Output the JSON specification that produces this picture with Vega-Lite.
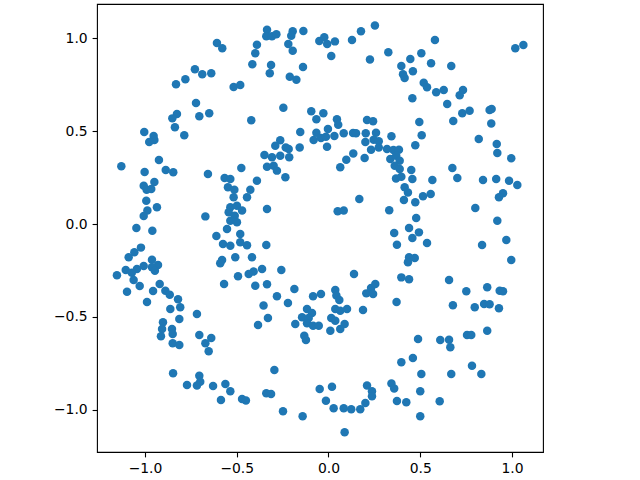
{
"$schema": "https://vega.github.io/schema/vega-lite/v6.json",
"width": 446, "height": 448,
"autosize": "none",
"padding": {"left": 97, "top": 4, "right": 97, "bottom": 28},
"background": "white",
"config": {
  "view": {"stroke": "black", "strokeWidth": 1.1},
  "axis": {"domain": false, "grid": false, "ticks": true, "tickColor": "black", "tickSize": 4.9, "tickWidth": 1.1, "labelFont": "DejaVu Sans", "labelFontSize": 13.9, "labelColor": "black", "labelPadding": 4.9, "title": null}
},
"data": {"values": [
{"x":-0.608,"y":0.973},{"x":-0.579,"y":0.945},{"x":-0.728,"y":0.832},{"x":-0.688,"y":0.805},{"x":-0.639,"y":0.810},{"x":-0.780,"y":0.778},{"x":-0.831,"y":0.751},{"x":-0.517,"y":0.737},{"x":-0.481,"y":0.747},{"x":-0.722,"y":0.651},
{"x":-0.826,"y":0.591},{"x":-0.851,"y":0.568},{"x":-0.704,"y":0.579},{"x":-0.650,"y":0.595},{"x":-0.837,"y":0.520},{"x":-1.004,"y":0.495},{"x":-0.953,"y":0.473},{"x":-0.949,"y":0.452},{"x":-0.977,"y":0.441},{"x":-0.786,"y":0.477},
{"x":-0.335,"y":1.045},{"x":-0.339,"y":1.009},{"x":-0.308,"y":1.009},{"x":-0.284,"y":1.020},{"x":-0.195,"y":1.036},{"x":-0.203,"y":1.012},{"x":-0.137,"y":1.038},{"x":-0.390,"y":0.964},{"x":-0.399,"y":0.918},{"x":-0.415,"y":0.859},
{"x":-0.313,"y":0.855},{"x":-0.320,"y":0.810},{"x":-0.219,"y":0.968},{"x":-0.195,"y":0.932},{"x":-0.139,"y":0.844},{"x":-0.211,"y":0.792},{"x":-0.175,"y":0.776},{"x":-0.050,"y":0.984},{"x":-0.023,"y":1.004},{"x":-0.007,"y":0.968},
{"x":0.035,"y":0.982},{"x":0.015,"y":0.903},{"x":0.128,"y":0.989},{"x":0.177,"y":1.036},{"x":0.253,"y":1.068},{"x":0.226,"y":0.885},{"x":0.326,"y":0.923},{"x":-0.246,"y":0.625},{"x":-0.421,"y":0.558},{"x":-0.094,"y":0.606},
{"x":-0.028,"y":0.595},{"x":-0.066,"y":0.563},{"x":0.046,"y":0.563},{"x":0.053,"y":0.534},{"x":0.210,"y":0.559},{"x":0.243,"y":0.552},{"x":-0.154,"y":0.495},{"x":-0.066,"y":0.491},{"x":-0.003,"y":0.511},{"x":0.032,"y":0.473},
{"x":0.083,"y":0.488},{"x":0.134,"y":0.489},{"x":0.150,"y":0.488},{"x":0.203,"y":0.488},{"x":0.259,"y":0.491},{"x":0.343,"y":0.472},{"x":-0.081,"y":0.452},{"x":-0.041,"y":0.462},{"x":-0.014,"y":0.469},{"x":-0.008,"y":0.416},
{"x":-0.263,"y":0.450},{"x":-0.290,"y":0.421},{"x":-0.233,"y":0.412},{"x":-0.217,"y":0.403},{"x":-0.157,"y":0.412},{"x":0.135,"y":0.379},{"x":0.201,"y":0.441},{"x":0.246,"y":0.453},{"x":0.274,"y":0.445},{"x":0.232,"y":0.399},
{"x":0.274,"y":0.412},{"x":0.319,"y":0.403},{"x":0.354,"y":0.398},{"x":-0.349,"y":0.371},{"x":0.580,"y":0.989},{"x":1.018,"y":0.945},{"x":1.062,"y":0.962},{"x":0.506,"y":0.918},{"x":0.446,"y":0.887},{"x":0.397,"y":0.849},
{"x":0.406,"y":0.805},{"x":0.415,"y":0.785},{"x":0.460,"y":0.821},{"x":0.559,"y":0.864},{"x":0.669,"y":0.849},{"x":0.519,"y":0.760},{"x":0.537,"y":0.735},{"x":0.587,"y":0.708},{"x":0.628,"y":0.720},{"x":0.457,"y":0.676},
{"x":0.647,"y":0.645},{"x":0.715,"y":0.692},{"x":0.733,"y":0.720},{"x":0.729,"y":0.595},{"x":0.769,"y":0.609},{"x":0.680,"y":0.554},{"x":0.495,"y":0.548},{"x":0.508,"y":0.477},{"x":0.878,"y":0.613},{"x":0.889,"y":0.618},
{"x":0.887,"y":0.541},{"x":0.819,"y":0.457},{"x":0.917,"y":0.430},{"x":0.920,"y":0.382},{"x":0.473,"y":0.423},{"x":0.384,"y":0.399},{"x":-1.129,"y":0.310},{"x":-0.924,"y":0.344},{"x":-0.887,"y":0.290},{"x":-0.846,"y":0.278},
{"x":-1.002,"y":0.280},{"x":-1.007,"y":0.206},{"x":-0.949,"y":0.226},{"x":-0.991,"y":0.184},{"x":-0.966,"y":0.188},{"x":-0.993,"y":0.125},{"x":-0.935,"y":0.090},{"x":-0.987,"y":0.072},{"x":-1.007,"y":0.043},{"x":-1.047,"y":-0.022},
{"x":-0.960,"y":-0.036},{"x":-1.022,"y":-0.127},{"x":-1.058,"y":-0.152},{"x":-1.089,"y":-0.179},{"x":-0.962,"y":-0.192},{"x":-0.929,"y":-0.220},{"x":-1.007,"y":-0.226},{"x":-1.044,"y":-0.242},{"x":-1.105,"y":-0.247},{"x":-1.153,"y":-0.276},
{"x":-1.072,"y":-0.262},{"x":-0.962,"y":-0.233},{"x":-0.946,"y":-0.251},{"x":-1.062,"y":-0.301},{"x":-1.029,"y":-0.333},{"x":-1.098,"y":-0.364},{"x":-0.920,"y":-0.323},{"x":-0.956,"y":-0.360},{"x":-0.889,"y":-0.359},{"x":-0.865,"y":-0.380},
{"x":-0.820,"y":-0.405},{"x":-0.989,"y":-0.419},{"x":-0.657,"y":0.269},{"x":-0.566,"y":0.247},{"x":-0.535,"y":0.242},{"x":-0.548,"y":0.197},{"x":-0.513,"y":0.184},{"x":-0.475,"y":0.301},{"x":-0.517,"y":0.144},{"x":-0.444,"y":0.144},
{"x":-0.535,"y":0.090},{"x":-0.499,"y":0.098},{"x":-0.544,"y":0.063},{"x":-0.511,"y":0.045},{"x":-0.471,"y":0.072},{"x":-0.535,"y":0.018},{"x":-0.499,"y":0.009},{"x":-0.671,"y":0.041},{"x":-0.553,"y":-0.027},{"x":-0.481,"y":-0.054},
{"x":-0.611,"y":-0.065},{"x":-0.575,"y":-0.108},{"x":-0.535,"y":-0.117},{"x":-0.481,"y":-0.098},{"x":-0.444,"y":-0.114},{"x":-0.580,"y":-0.194},{"x":-0.590,"y":-0.211},{"x":-0.508,"y":-0.179},{"x":-0.493,"y":-0.281},{"x":-0.569,"y":-0.323},
{"x":-0.308,"y":0.359},{"x":-0.263,"y":0.367},{"x":-0.214,"y":0.359},{"x":-0.335,"y":0.308},{"x":-0.299,"y":0.313},{"x":-0.281,"y":0.287},{"x":-0.235,"y":0.251},{"x":-0.390,"y":0.233},{"x":-0.426,"y":0.184},{"x":-0.335,"y":0.081},
{"x":0.064,"y":0.305},{"x":0.097,"y":0.346},{"x":0.197,"y":0.355},{"x":0.168,"y":0.134},{"x":0.050,"y":0.068},{"x":0.083,"y":0.072},{"x":0.331,"y":0.074},{"x":0.368,"y":0.245},{"x":0.337,"y":0.349},{"x":0.358,"y":-0.049},
{"x":0.373,"y":-0.111},{"x":-0.339,"y":-0.113},{"x":-0.417,"y":-0.179},{"x":-0.362,"y":-0.242},{"x":-0.408,"y":-0.256},{"x":-0.435,"y":-0.269},{"x":-0.257,"y":-0.247},{"x":-0.399,"y":-0.332},{"x":-0.335,"y":-0.324},{"x":-0.186,"y":-0.349},
{"x":-0.281,"y":-0.389},{"x":-0.354,"y":-0.438},{"x":-0.221,"y":-0.425},{"x":-0.084,"y":-0.389},{"x":-0.041,"y":-0.376},{"x":0.037,"y":-0.355},{"x":0.043,"y":-0.385},{"x":0.059,"y":-0.409},{"x":0.139,"y":-0.269},{"x":0.206,"y":-0.373},
{"x":0.232,"y":-0.344},{"x":0.255,"y":-0.323},{"x":0.243,"y":-0.376},{"x":0.371,"y":-0.419},{"x":0.369,"y":0.367},{"x":0.388,"y":0.340},{"x":0.361,"y":0.313},{"x":0.388,"y":0.296},{"x":0.451,"y":0.290},{"x":0.397,"y":0.254},
{"x":0.457,"y":0.242},{"x":0.415,"y":0.197},{"x":0.433,"y":0.170},{"x":0.411,"y":0.129},{"x":0.473,"y":0.117},{"x":0.515,"y":0.149},{"x":0.557,"y":0.161},{"x":0.566,"y":0.237},{"x":0.675,"y":0.301},{"x":0.702,"y":0.247},
{"x":0.996,"y":0.353},{"x":0.842,"y":0.237},{"x":0.914,"y":0.242},{"x":0.984,"y":0.233},{"x":1.029,"y":0.210},{"x":0.951,"y":0.165},{"x":0.929,"y":0.144},{"x":0.800,"y":0.086},{"x":0.478,"y":0.032},{"x":0.439,"y":-0.022},
{"x":0.493,"y":-0.045},{"x":0.457,"y":-0.075},{"x":0.920,"y":0.018},{"x":0.537,"y":-0.102},{"x":0.969,"y":-0.086},{"x":0.837,"y":-0.113},{"x":0.439,"y":-0.179},{"x":0.470,"y":-0.183},{"x":0.433,"y":-0.206},{"x":0.996,"y":-0.194},
{"x":0.397,"y":-0.287},{"x":0.439,"y":-0.297},{"x":0.657,"y":-0.301},{"x":0.751,"y":-0.362},{"x":0.865,"y":-0.340},{"x":0.933,"y":-0.359},{"x":0.951,"y":-0.362},{"x":0.678,"y":-0.437},{"x":0.848,"y":-0.430},{"x":0.878,"y":-0.432},
{"x":-0.862,"y":-0.457},{"x":-0.808,"y":-0.448},{"x":-0.813,"y":-0.511},{"x":-0.717,"y":-0.484},{"x":-0.902,"y":-0.528},{"x":-0.907,"y":-0.565},{"x":-0.853,"y":-0.565},{"x":-0.849,"y":-0.591},{"x":-0.913,"y":-0.604},{"x":-0.849,"y":-0.641},
{"x":-0.813,"y":-0.651},{"x":-0.704,"y":-0.597},{"x":-0.639,"y":-0.613},{"x":-0.671,"y":-0.641},{"x":-0.653,"y":-0.684},{"x":-0.847,"y":-0.803},{"x":-0.704,"y":-0.816},{"x":-0.699,"y":-0.848},{"x":-0.717,"y":-0.869},{"x":-0.771,"y":-0.866},
{"x":-0.629,"y":-0.871},{"x":-0.562,"y":-0.860},{"x":-0.535,"y":-0.899},{"x":-0.586,"y":-0.946},{"x":-0.471,"y":-0.941},{"x":-0.450,"y":-0.949},{"x":-0.330,"y":-0.505},{"x":-0.384,"y":-0.543},{"x":-0.117,"y":-0.457},{"x":-0.090,"y":-0.478},
{"x":-0.144,"y":-0.502},{"x":-0.108,"y":-0.505},{"x":-0.117,"y":-0.534},{"x":-0.084,"y":-0.547},{"x":-0.053,"y":-0.547},{"x":-0.181,"y":-0.538},{"x":-0.132,"y":-0.601},{"x":-0.123,"y":-0.624},{"x":0.037,"y":-0.457},{"x":0.064,"y":-0.466},
{"x":0.101,"y":-0.457},{"x":0.188,"y":-0.462},{"x":0.015,"y":-0.505},{"x":0.037,"y":-0.520},{"x":0.088,"y":-0.538},{"x":0.064,"y":-0.565},{"x":0.010,"y":-0.574},{"x":-0.295,"y":-0.785},{"x":-0.339,"y":-0.910},{"x":-0.313,"y":-0.914},
{"x":-0.248,"y":-1.007},{"x":-0.141,"y":-1.034},{"x":-0.048,"y":-0.887},{"x":0.019,"y":-0.875},{"x":-0.014,"y":-0.950},{"x":0.028,"y":-0.991},{"x":0.083,"y":-0.991},{"x":0.124,"y":-0.996},{"x":0.173,"y":-0.996},{"x":0.201,"y":-0.962},
{"x":0.210,"y":-0.869},{"x":0.237,"y":-0.899},{"x":0.237,"y":-0.926},{"x":0.088,"y":-1.120},{"x":0.343,"y":-0.858},{"x":0.358,"y":-0.885},{"x":0.373,"y":-0.952},{"x":0.797,"y":-0.448},{"x":0.929,"y":-0.453},{"x":0.488,"y":-0.618},
{"x":0.609,"y":-0.624},{"x":0.657,"y":-0.622},{"x":0.664,"y":-0.663},{"x":0.755,"y":-0.597},{"x":0.778,"y":-0.597},{"x":0.865,"y":-0.574},{"x":0.460,"y":-0.720},{"x":0.397,"y":-0.744},{"x":0.506,"y":-0.806},{"x":0.669,"y":-0.806},
{"x":0.782,"y":-0.762},{"x":0.833,"y":-0.806},{"x":0.500,"y":-0.899},{"x":0.424,"y":-0.959},{"x":0.606,"y":-0.953},{"x":0.500,"y":-1.034}
]},
"mark": {"type": "circle", "size": 72, "color": "#1f77b4", "opacity": 1},
"encoding": {
  "x": {"field": "x", "type": "quantitative", "scale": {"domain": [-1.2616, 1.169], "nice": false, "zero": false}, "axis": {"values": [-1, -0.5, 0, 0.5, 1], "format": ".1f"}},
  "y": {"field": "y", "type": "quantitative", "scale": {"domain": [-1.226, 1.183], "nice": false, "zero": false}, "axis": {"values": [-1, -0.5, 0, 0.5, 1], "format": ".1f"}}
}
}
